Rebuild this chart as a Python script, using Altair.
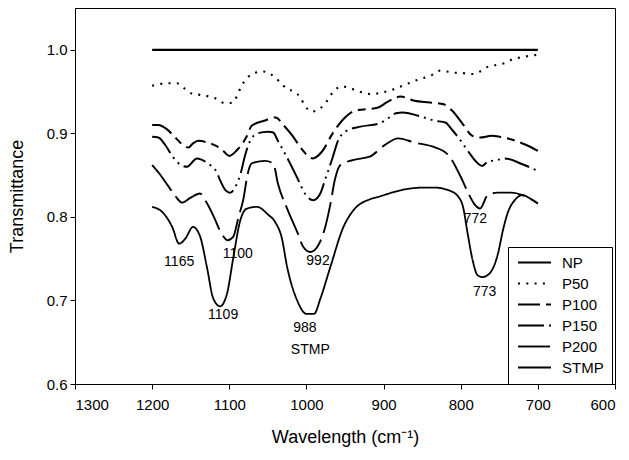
import altair as alt
import pandas as pd

# ---- data ----
np_x = [1200, 700]
np_y = [1.0, 1.0]

p50_x = [1200, 1190, 1180, 1168, 1157, 1147, 1137, 1126, 1116, 1106, 1095, 1089, 1084, 1077, 1067, 1056,
         1045, 1036, 1025, 1016, 1008, 1002, 993, 982, 973, 966, 954, 946, 935, 924, 914, 902, 892, 881,
         870, 859, 849, 837, 827, 818, 807, 797, 785, 775, 764, 753, 743, 732, 721, 710, 700]
p50_y = [0.957, 0.959, 0.960, 0.960, 0.953, 0.947, 0.946, 0.944, 0.941, 0.936, 0.937, 0.947, 0.957, 0.966,
         0.9725, 0.974, 0.970, 0.963, 0.953, 0.950, 0.943, 0.933, 0.926, 0.930, 0.939, 0.949, 0.956, 0.955,
         0.951, 0.948, 0.947, 0.949, 0.951, 0.955, 0.959, 0.963, 0.966, 0.970, 0.975, 0.974, 0.9725, 0.972,
         0.971, 0.974, 0.980, 0.982, 0.984, 0.989, 0.991, 0.993, 0.994]

p100_x = [1200, 1192, 1181, 1170, 1160, 1153, 1147, 1140, 1125, 1110, 1100, 1090, 1077, 1071, 1055, 1040,
          1030, 1018, 1006, 992, 980, 966, 950, 937, 907, 896, 878, 860, 840, 823, 811, 798, 785, 775, 760,
          750, 732, 715, 700]
p100_y = [0.910, 0.910, 0.905, 0.895, 0.886, 0.883, 0.888, 0.891, 0.888, 0.881, 0.873, 0.880, 0.897, 0.909,
          0.915, 0.919, 0.910, 0.897, 0.881, 0.870, 0.878, 0.900, 0.919, 0.927, 0.931, 0.937, 0.944, 0.939,
          0.937, 0.935, 0.927, 0.912, 0.897, 0.895, 0.897, 0.896, 0.892, 0.886, 0.879]

p150_x = [1200, 1192, 1183, 1176, 1168, 1155, 1142, 1128, 1116, 1112, 1105, 1099, 1092, 1085, 1080, 1073,
          1063, 1050, 1043, 1037, 1032, 1028, 1019, 1010, 1002, 991, 982, 976, 966, 960, 948, 930, 905, 894,
          884, 875, 855, 833, 820, 811, 803, 790, 780, 772, 765, 753, 743, 720, 700]
p150_y = [0.896, 0.895, 0.886, 0.876, 0.866, 0.860, 0.870, 0.864, 0.853, 0.844, 0.832, 0.829, 0.836, 0.853,
          0.872, 0.891, 0.900, 0.902, 0.901, 0.891, 0.883, 0.876, 0.860, 0.843, 0.828, 0.820, 0.828, 0.844,
          0.871, 0.889, 0.903, 0.908, 0.912, 0.918, 0.924, 0.925, 0.921, 0.915, 0.913, 0.904, 0.895, 0.878,
          0.866, 0.861, 0.866, 0.868, 0.870, 0.863, 0.855]

p200_x = [1200, 1190, 1180, 1170, 1161, 1150, 1138, 1130, 1120, 1110, 1102, 1095, 1088, 1082, 1076, 1071,
          1054, 1043, 1037, 1025, 1012, 1004, 995, 986, 975, 969, 963, 956, 940, 918, 900, 881, 860, 836,
          816, 800, 790, 782, 775, 765, 752, 734, 720, 700]
p200_y = [0.862, 0.851, 0.838, 0.825, 0.817, 0.823, 0.828, 0.818, 0.800, 0.780, 0.772, 0.776, 0.800, 0.820,
          0.852, 0.864, 0.867, 0.864, 0.840, 0.810, 0.782, 0.764, 0.758, 0.764, 0.790, 0.815, 0.845, 0.862,
          0.868, 0.872, 0.885, 0.894, 0.889, 0.884, 0.874, 0.848, 0.828, 0.815, 0.810, 0.826, 0.829, 0.829,
          0.826, 0.816]

stmp_x = [1200, 1186, 1174, 1165, 1157, 1147, 1138, 1129, 1121, 1112, 1103, 1095, 1086, 1077, 1064, 1050,
          1040, 1032, 1025, 1012, 1000, 990, 982, 969, 952, 939, 918, 907, 872, 850, 833, 816, 803, 797, 791,
          785, 778, 772, 762, 752, 745, 739, 730, 720, 710, 700]
stmp_y = [0.812, 0.805, 0.788, 0.768, 0.774, 0.788, 0.777, 0.740, 0.703, 0.693, 0.708, 0.750, 0.795, 0.810,
          0.812, 0.803, 0.793, 0.775, 0.740, 0.700, 0.684, 0.684, 0.702, 0.740, 0.788, 0.808, 0.821, 0.824,
          0.833, 0.835, 0.835, 0.832, 0.824, 0.812, 0.780, 0.750, 0.730, 0.728, 0.733, 0.755, 0.785, 0.805,
          0.820, 0.826, 0.822, 0.816]

series_names = ["NP", "P50", "P100", "P150", "P200", "STMP"]
series_x = [np_x, p50_x, p100_x, p150_x, p200_x, stmp_x]
series_y = [np_y, p50_y, p100_y, p150_y, p200_y, stmp_y]

ann_labels = ["1165", "1100", "1109", "992", "988", "STMP", "772", "773"]
ann_x = [1165, 1089, 1108, 985, 1002, 995, 781, 769]
ann_y = [0.746, 0.755, 0.682, 0.747, 0.667, 0.641, 0.798, 0.710]

x_ticks = [1300, 1200, 1100, 1000, 900, 800, 700, 600]
y_ticks = [0.6, 0.7, 0.8, 0.9, 1.0]

# ---- build tables ----
rows = []
for name, xs, ys in zip(series_names, series_x, series_y):
    for i, (xv, yv) in enumerate(zip(xs, ys)):
        rows.append({"series": name, "wn": xv, "T": yv, "order": i})
df = pd.DataFrame(rows)
ann = pd.DataFrame({"label": ann_labels, "wn": ann_x, "T": ann_y})

FONT = "Liberation Sans"

xscale = alt.Scale(domain=[1300, 600], nice=False, zero=False)
yscale = alt.Scale(domain=[0.6, 1.05], nice=False, zero=False)

dash_range = [[1, 0], [2, 6.3], [22, 6, 8, 6], [26, 5, 2, 5, 2, 5], [32, 7], [1, 0]]
width_range = [2.2, 1.8, 1.8, 1.8, 1.8, 1.0]

lines = alt.Chart(df).mark_line(color="black", interpolate="monotone").encode(
    x=alt.X("wn:Q", scale=xscale,
            axis=alt.Axis(values=x_ticks, title="Wavelength (cm⁻¹)", format="d",
                          titlePadding=16)),
    y=alt.Y("T:Q", scale=yscale,
            axis=alt.Axis(values=y_ticks, title="Transmittance", format=".1f",
                          titlePadding=20)),
    order="order:Q",
    strokeDash=alt.StrokeDash("series:N",
                              scale=alt.Scale(domain=series_names, range=dash_range),
                              legend=alt.Legend(title=None, orient="none", legendX=433, legendY=239,
                                                symbolType="M-1,0H5", symbolSize=121,
                                                symbolStrokeColor="black", symbolStrokeWidth=1.6,
                                                labelFontSize=15, labelFont=FONT, labelColor="black",
                                                strokeColor="black", padding=8, rowPadding=5,
                                                labelOffset=31)),
    strokeWidth=alt.StrokeWidth("series:N",
                                scale=alt.Scale(domain=series_names, range=width_range),
                                legend=None),
)

texts = alt.Chart(ann).mark_text(font=FONT, fontSize=14, color="black").encode(
    x=alt.X("wn:Q", scale=xscale),
    y=alt.Y("T:Q", scale=yscale),
    text="label:N",
)

chart = alt.layer(lines, texts).properties(
    width=540, height=376,
    autosize=alt.AutoSizeParams(type="none"),
    padding={"left": 67, "top": 0, "right": 6, "bottom": 68},
).configure_view(stroke="black", strokeWidth=1).configure_axis(
    grid=False, domainColor="black", tickColor="black", tickSize=5,
    labelFont=FONT, labelFontSize=15, labelColor="black",
    titleFont=FONT, titleFontSize=18, titleFontWeight="normal", titleColor="black",
).configure_axisX(labelPadding=8).configure_axisY(labelPadding=3)

chart.save("out.html", embed_options={"renderer": "svg", "actions": False})
